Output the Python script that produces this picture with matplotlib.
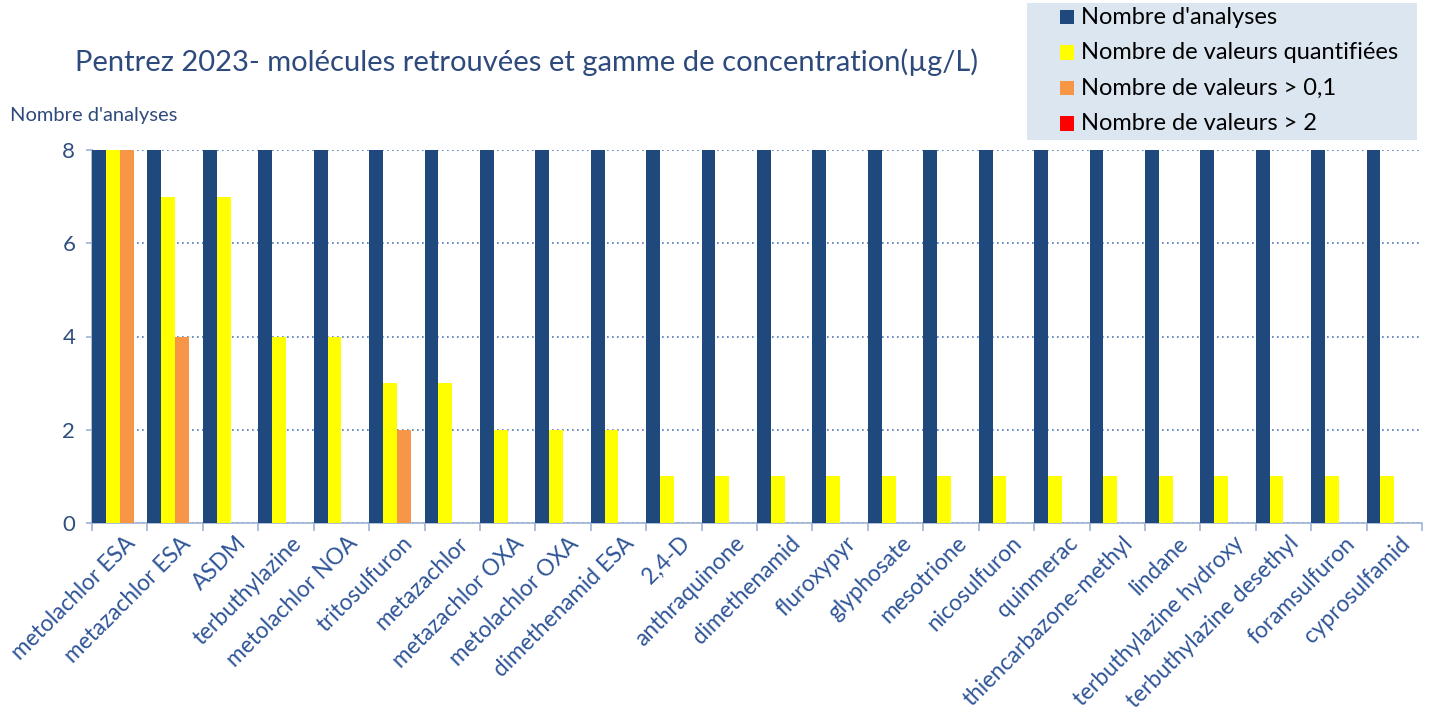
import numpy as np
import matplotlib.pyplot as plt
from matplotlib.patches import Rectangle
from matplotlib.transforms import ScaledTranslation

# Data
molecules = ["metolachlor ESA", "metazachlor ESA", "ASDM", "terbuthylazine",
             "metolachlor NOA", "tritosulfuron", "metazachlor", "metazachlor OXA",
             "metolachlor OXA", "dimethenamid ESA", "2,4-D", "anthraquinone",
             "dimethenamid", "fluroxypyr", "glyphosate", "mesotrione",
             "nicosulfuron", "quinmerac", "thiencarbazone-methyl", "lindane",
             "terbuthylazine hydroxy", "terbuthylazine desethyl", "foramsulfuron",
             "cyprosulfamid"]
n_analyses = [8] * 24
n_quantified = [8, 7, 7, 4, 4, 3, 3, 2, 2, 2, 1, 1, 1, 1, 1, 1, 1, 1, 1, 1, 1, 1, 1, 1]
n_above_01 = [8, 4, 0, 0, 0, 2, 0, 0, 0, 0, 0, 0, 0, 0, 0, 0, 0, 0, 0, 0, 0, 0, 0, 0]
n_above_2 = [0] * 24

series = [
    ("Nombre d'analyses", n_analyses, "#1F497D"),
    ("Nombre de valeurs quantifiées", n_quantified, "#FFFF00"),
    ("Nombre de valeurs > 0,1", n_above_01, "#F79646"),
    ("Nombre de valeurs > 2", n_above_2, "#FF0000"),
]

plt.rcParams['font.family'] = ['Lato', 'DejaVu Sans']

W, H = 1432, 711
fig = plt.figure(figsize=(W / 100, H / 100), dpi=100)
ax = fig.add_axes([92 / W, 188 / H, 1330 / W, 373 / H])

x = np.arange(len(molecules))
w = 0.25
for i, (name, vals, col) in enumerate(series):
    ax.bar(x + i * w, vals, width=w, color=col, align='edge', zorder=3)

ax.set_xlim(0, len(molecules))
ax.set_ylim(0, 8)
ax.set_yticks([0, 2, 4, 6, 8])
ax.yaxis.grid(True, linestyle=(0, (1, 2)), color="#4F77B8", linewidth=1.2, zorder=0)

# x ticks at category boundaries, labels at centers
ax.set_xticks(np.arange(len(molecules) + 1))
ax.set_xticklabels([])
ax.set_xticks(x + 0.5, minor=True)
ax.set_xticklabels(molecules, minor=True, rotation=45, ha='right', va='top',
                   rotation_mode='anchor', fontsize=16.3, color="#2F5597")
ax.tick_params(axis='x', which='minor', length=0, pad=7)
ax.tick_params(axis='x', which='major', length=6, color="#9DB3D3", width=1.2)
ax.tick_params(axis='y', length=4, color="#9DB3D3", width=1.2, labelsize=16,
               labelcolor="#2F4F7F", pad=8)
shift = ScaledTranslation(5 / 100, 0, fig.dpi_scale_trans)
for lab in ax.get_xticklabels(minor=True):
    lab.set_transform(lab.get_transform() + shift)

for s in ['top', 'right']:
    ax.spines[s].set_visible(False)
for s in ['left', 'bottom']:
    ax.spines[s].set_color("#9DB3D3")
    ax.spines[s].set_linewidth(1.2)

fig.text(75 / W, 1 - 62 / H, "Pentrez 2023- molécules retrouvées et gamme de concentration(µg/L)",
         fontsize=21, color="#2E4A7D", va='center', ha='left')
fig.text(10 / W, 1 - 115 / H, "Nombre d'analyses", fontsize=14.5, color="#2E4A7D",
         va='center', ha='left')

# legend box
fig.patches.append(Rectangle((1027 / W, 1 - 140 / H), 390 / W, 137 / H,
                             transform=fig.transFigure, facecolor="#DCE6F1",
                             edgecolor="none", zorder=1))
for k, (name, _, col) in enumerate(series):
    yc = 17 + k * 35.5
    fig.patches.append(Rectangle((1060 / W, 1 - (yc + 7) / H), 14 / W, 14 / H,
                                 transform=fig.transFigure, facecolor=col,
                                 edgecolor="none", zorder=2))
    fig.text(1081 / W, 1 - yc / H, name, fontsize=17, color="black",
             va='center', ha='left', zorder=3)

fig.savefig("out.png", dpi=100)
